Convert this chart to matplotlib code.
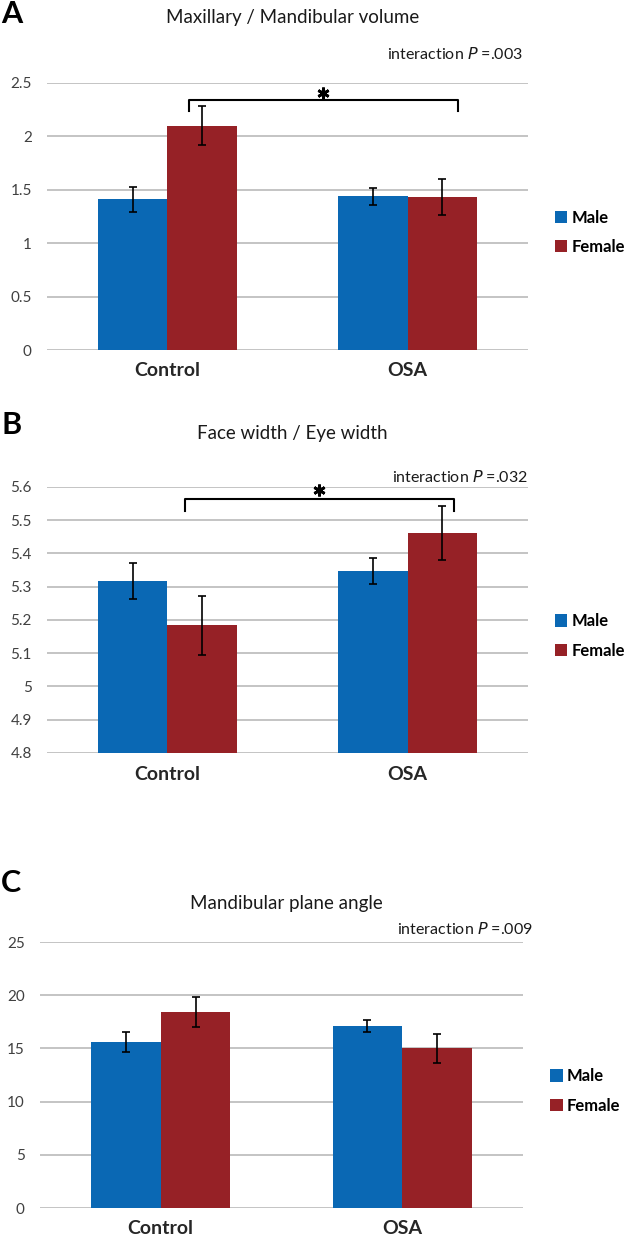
import numpy as np
import matplotlib.pyplot as plt

plt.rcParams['font.family'] = ['Lato', 'DejaVu Sans']

groups = ['Control', 'OSA']
sexes = ['Male', 'Female']
colors = ['#0A68B4', '#962126']

# A) Maxillary / Mandibular volume
maxmand_male = [1.41, 1.44]
maxmand_male_err = [0.12, 0.08]
maxmand_female = [2.10, 1.43]
maxmand_female_err = [0.18, 0.17]

# B) Face width / Eye width
face_male = [5.317, 5.348]
face_male_err = [0.055, 0.039]
face_female = [5.184, 5.461]
face_female_err = [0.088, 0.081]

# C) Mandibular plane angle
angle_male = [15.6, 17.1]
angle_male_err = [0.94, 0.6]
angle_female = [18.4, 15.0]
angle_female_err = [1.4, 1.33]

titles = ['Maxillary / Mandibular volume', 'Face width / Eye width', 'Mandibular plane angle']
pvalues = ['.003', '.032', '.009']
letters = ['A', 'B', 'C']
yticks = [[0, 0.5, 1, 1.5, 2, 2.5],
          [4.8, 4.9, 5, 5.1, 5.2, 5.3, 5.4, 5.5, 5.6],
          [0, 5, 10, 15, 20, 25]]

fig = plt.figure(figsize=(6.25, 12.44), dpi=100)

# axes boxes in pixels (left, top, right, bottom)
boxes = [(47, 83, 528, 350), (47, 487, 528, 753), (40, 942, 523, 1208)]
title_y = [1.247, 1.20, 1.144]
p_x = [0.99, 1.0, 1.02]
p_y = [1.109, 1.036, 1.049]
letter_y = [14, 425, 883]
# significance brackets: x left, x right, top, tick bottom, star height
brackets = [(0.09, 1.209, 2.344, 2.234, 2.41), (0.072, 1.193, 5.563, 5.527, 5.592), None]

data = [(maxmand_male, maxmand_male_err, maxmand_female, maxmand_female_err),
        (face_male, face_male_err, face_female, face_female_err),
        (angle_male, angle_male_err, angle_female, angle_female_err)]

x = np.arange(len(groups))
w = 0.288
W, H = 625, 1244

for i in range(3):
    l, t, r, b = boxes[i]
    ax = fig.add_axes([l / W, 1 - b / H, (r - l) / W, (b - t) / H])
    male, male_err, female, female_err = data[i]
    ax.bar(x - w / 2, male, w, color=colors[0], label='Male', zorder=2)
    ax.bar(x + w / 2, female, w, color=colors[1], label='Female', zorder=2)
    ax.errorbar(x - w / 2, male, yerr=male_err, fmt='none', ecolor='black',
                elinewidth=1.2, capsize=3, capthick=1.2, zorder=3)
    ax.errorbar(x + w / 2, female, yerr=female_err, fmt='none', ecolor='black',
                elinewidth=1.2, capsize=3, capthick=1.2, zorder=3)

    ax.set_xlim(-0.5, 1.5)
    ax.set_ylim(yticks[i][0], yticks[i][-1])
    ax.set_yticks(yticks[i])
    ax.set_yticklabels(['{:g}'.format(v) for v in yticks[i]])
    ax.set_xticks(x)
    ax.set_xticklabels(groups, fontsize=14, fontweight='bold', color='#262626')
    ax.tick_params(axis='y', length=0, pad=11, labelsize=11, labelcolor='#404040')
    ax.tick_params(axis='x', length=0, pad=9)
    ax.grid(axis='y', color='#C4C4C4', linewidth=1.4)
    ax.set_axisbelow(True)
    for s in ax.spines.values():
        s.set_visible(False)

    ax.text(0.51, title_y[i], titles[i], transform=ax.transAxes,
            ha='center', va='center', fontsize=13.5, color='#1a1a1a')
    ax.text(p_x[i], p_y[i], 'interaction $\\it{P}$ =' + pvalues[i], transform=ax.transAxes,
            ha='right', va='center', fontsize=11.5, color='#1a1a1a')
    fig.text(0.002, 1 - letter_y[i] / H, letters[i], fontsize=22, fontweight='bold',
             ha='left', va='center')

    if brackets[i] is not None:
        x0, x1, ytop, ybot, ystar = brackets[i]
        ax.plot([x0, x0, x1, x1], [ybot, ytop, ytop, ybot], color='black', lw=1.5,
                clip_on=False, zorder=4)
        ax.plot([(x0 + x1) / 2], [ystar], marker=(6, 2, 0), markersize=8.5,
                markeredgewidth=2, color='black', clip_on=False, zorder=4)

    ax.legend(loc='center left', bbox_to_anchor=(1.056, 0.44), frameon=False,
              prop={'weight': 'bold', 'size': 12}, handlelength=0.75,
              handleheight=0.75, handletextpad=0.25, labelspacing=0.8,
              borderpad=0, borderaxespad=0)

fig.savefig('out.png', dpi=100)
